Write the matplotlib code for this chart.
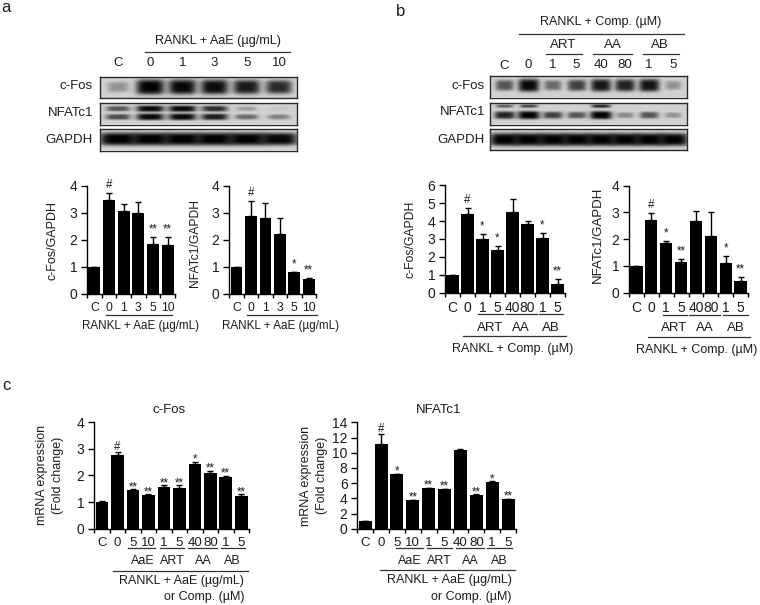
#!/usr/bin/env python3
from matplotlib import pyplot as plt
from matplotlib.lines import Line2D
import numpy as np

plt.rcParams['font.family'] = ['Liberation Sans', 'DejaVu Sans']
plt.rcParams['font.size'] = 9

W, H = 760, 605
TXT = '#1c1c1c'

# ---- blot band strengths, one per lane ----
lanes_a = ['C', '0', '1', '3', '5', '10']
a_fos = [0.3, 1.0, 0.97, 0.95, 0.88, 0.8]
a_nfat_up = [0.6, 0.97, 0.97, 0.8, 0.25, 0.06]
a_nfat_lo = [0.65, 0.97, 0.97, 0.88, 0.5, 0.4]
a_gapdh = [1.0, 1.0, 1.0, 1.0, 1.0, 0.97]

lanes_b = ['C', '0', '1', '5', '40', '80', '1', '5']
b_fos = [0.6, 0.97, 0.5, 0.7, 0.9, 0.85, 0.92, 0.3]
b_nfat_up = [0.6, 0.7, 0.0, 0.0, 0.85, 0.0, 0.0, 0.0]
b_nfat_lo = [0.85, 1.0, 0.7, 0.6, 1.0, 0.35, 0.6, 0.3]
b_gapdh = [1.0, 1.0, 1.0, 1.0, 1.0, 1.0, 1.0, 1.0]

# ---- densitometry a ----
labels_a = ['C', '0', '1', '3', '5', '10']
a1_vals = [1, 3.47, 3.07, 3.0, 1.86, 1.8]
a1_errs = [0, 0.27, 0.28, 0.41, 0.25, 0.31]
a1_marks = ['', '#', '', '', '**', '**']
a2_vals = [1, 2.87, 2.83, 2.21, 0.8, 0.54]
a2_errs = [0, 0.56, 0.55, 0.6, 0.02, 0.04]
a2_marks = ['', '#', '', '', '*', '**']

# ---- densitometry b ----
labels_b = ['C', '0', '1', '5', '40', '80', '1', '5']
b1_vals = [1, 4.4, 3.0, 2.36, 4.5, 3.84, 3.05, 0.47]
b1_errs = [0, 0.31, 0.26, 0.25, 0.75, 0.16, 0.26, 0.27]
b1_marks = ['', '#', '*', '*', '', '', '*', '**']
b2_vals = [1, 2.72, 1.84, 1.13, 2.69, 2.13, 1.12, 0.45]
b2_errs = [0, 0.25, 0.08, 0.12, 0.36, 0.89, 0.25, 0.15]
b2_marks = ['', '#', '*', '**', '', '', '*', '**']

# ---- mRNA c ----
labels_c = ['C', '0', '5', '10', '1', '5', '40', '80', '1', '5']
c1_vals = [1.0, 2.78, 1.44, 1.25, 1.58, 1.53, 2.42, 2.07, 1.92, 1.23]
c1_errs = [0.02, 0.09, 0.04, 0.04, 0.04, 0.09, 0.08, 0.1, 0.06, 0.07]
c1_marks = ['', '#', '**', '**', '**', '**', '*', '**', '**', '**']
c2_vals = [1.0, 11.2, 7.15, 3.77, 5.35, 5.18, 10.4, 4.47, 6.18, 3.86]
c2_errs = [0.05, 1.2, 0.1, 0.04, 0.05, 0.07, 0.05, 0.05, 0.07, 0.09]
c2_marks = ['', '#', '*', '**', '**', '**', '', '**', '*', '**']

fig = plt.figure(figsize=(W / 100, H / 100), dpi=100)


def px_axes(x0, x1, ytop, ybot):
    return fig.add_axes([x0 / W, 1 - ybot / H, (x1 - x0) / W, (ybot - ytop) / H])


def ptext(x, y, s, ha='center', size=9, rot=0):
    fig.text(x / W, 1 - y / H, s, ha=ha, va='center', fontsize=size, color=TXT, rotation=rot)


def pline(x0, x1, y, lw=0.9):
    fig.add_artist(Line2D([x0 / W, x1 / W], [1 - y / H, 1 - y / H], color='#333333', lw=lw))


def draw_blot(box, first, step, rows):
    # rows: list of (strengths, y centre as fraction, half height in px, half width factor)
    x0, x1, ytop, ybot = box
    ax = px_axes(x0, x1, ytop, ybot)
    xs = np.linspace(x0, x1, int(x1 - x0) * 2)
    ys = np.linspace(0, ybot - ytop, int(ybot - ytop) * 2)
    xx, yy = np.meshgrid(xs, ys)
    img = np.full(xx.shape, 0.82)
    for strengths, yfrac, hh, wfac in rows:
        yc = yfrac * (ybot - ytop)
        for i, s in enumerate(strengths):
            cx = first + i * step
            hw = step * wfac * (0.65 + 0.35 * s)
            band = s * np.exp(-((xx - cx) / hw) ** 4 - ((yy - yc) / (hh * (0.55 + 0.45 * s))) ** 4)
            img = img * (1 - band)
    ax.imshow(img, cmap='gray', vmin=0, vmax=1, aspect='auto', extent=[x0, x1, ybot, ytop],
              interpolation='bicubic')
    ax.set_xticks([])
    ax.set_yticks([])
    for s in ax.spines.values():
        s.set_linewidth(1.0)
        s.set_color('#2a2a2a')


def draw_bars(box, labels, vals, errs, marks, ymax, yticks, gap, hash_gap, xsize):
    ax = px_axes(*box)
    x = np.arange(len(vals))
    vals = np.array(vals)
    errs = np.array(errs)
    ax.bar(x, vals, width=0.82, color='black')
    ax.errorbar(x, vals, yerr=[np.zeros(len(errs)), errs], fmt='none', ecolor='black',
                elinewidth=1, capsize=2, capthick=1)
    for xi, top, m in zip(x, vals + errs, marks):
        if m:
            ax.annotate(m, (xi, top), xytext=(0, hash_gap if m == '#' else gap), textcoords='offset points',
                        ha='center', va='center', fontsize=8.3, color=TXT, annotation_clip=False)
    ax.set_xlim(-0.5, len(vals) - 0.5)
    ax.set_ylim(0, ymax)
    ax.set_yticks(yticks)
    ax.tick_params(axis='y', length=4, width=1, pad=3, labelsize=10, labelcolor=TXT)
    ax.set_xticks(x)
    ax.set_xticklabels(labels)
    ax.tick_params(axis='x', which='major', length=0, pad=6, labelsize=xsize, labelcolor=TXT)
    ax.set_xticks(np.arange(len(vals) + 1) - 0.5, minor=True)
    ax.tick_params(axis='x', which='minor', length=3, width=1)
    ax.spines['top'].set_visible(False)
    ax.spines['right'].set_visible(False)
    ax.spines['left'].set_linewidth(1)
    ax.spines['bottom'].set_linewidth(1)
    return ax


# panel letters
ptext(6, 7, 'a', size=12)
ptext(401, 11, 'b', size=12)
ptext(6, 385, 'c', size=12)

# ---- blots a ----
rows_fos_a = [(a_fos, 0.5, 7.5, 0.44)]
rows_nfat_a = [(a_nfat_up, 0.3, 3.2, 0.44), (a_nfat_lo, 0.68, 3.4, 0.44)]
rows_gapdh_a = [(a_gapdh, 0.5, 6.5, 0.6)]
draw_blot((100, 297, 76.5, 98), 118, 32.2, rows_fos_a)
draw_blot((100, 297, 102.5, 124.5), 118, 32.2, rows_nfat_a)
draw_blot((100, 297, 128.5, 150.5), 118, 32.2, rows_gapdh_a)
for i, s in enumerate(lanes_a):
    ptext(118 + i * 32.2, 63.5, s, size=9.5)
ptext(218, 41, 'RANKL + AaE (µg/mL)', size=9.1)
pline(145, 290, 51.7)
for yy, s in zip([86, 112.7, 140], ['c-Fos', 'NFATc1', 'GAPDH']):
    ptext(93, yy, s, ha='right', size=9.5)

# ---- blots b ----
rows_fos_b = [(b_fos, 0.47, 6.5, 0.44)]
rows_nfat_b = [(b_nfat_up, 0.18, 1.8, 0.42), (b_nfat_lo, 0.6, 4, 0.46)]
rows_gapdh_b = [(b_gapdh, 0.5, 6.5, 0.62)]
draw_blot((489.5, 686.5, 76, 97.5), 504, 24.15, rows_fos_b)
draw_blot((489.5, 686.5, 103, 124.5), 504, 24.15, rows_nfat_b)
draw_blot((489.5, 686.5, 129, 150), 504, 24.15, rows_gapdh_b)
for i, s in enumerate(lanes_b):
    ptext(504 + i * 24.15, 66 if s == 'C' else 65, s, size=9.5)
ptext(601, 22.5, 'RANKL + Comp. (µM)', size=9)
pline(518.5, 683.5, 34)
for cx, xa, xb, s in [(563, 546, 582, 'ART'), (613, 593, 632, 'AA'), (660, 643, 679, 'AB')]:
    ptext(cx, 45.5, s, size=9.5)
    pline(xa, xb, 54.3)
for yy, s in zip([86, 112, 140], ['c-Fos', 'NFATc1', 'GAPDH']):
    ptext(485, yy, s, ha='right', size=9.5)

# ---- bars a ----
draw_bars((87, 175, 186, 293.7), labels_a, a1_vals, a1_errs, a1_marks, 4, [0, 1, 2, 3, 4], 5.5, 6, 8.8)
draw_bars((229.3, 316, 186, 293.7), labels_a, a2_vals, a2_errs, a2_marks, 4, [0, 1, 2, 3, 4], 5.5, 6, 8.8)
ptext(52.5, 240, 'c-Fos/GAPDH', rot=90, size=9)
ptext(195, 243, 'NFATc1/GAPDH', rot=90, size=8.7)
pline(106, 172, 315)
pline(247, 316.7, 315)
ptext(140, 326, 'RANKL + AaE (µg/mL)', size=8.4)
ptext(281, 326, 'RANKL + AaE (µg/mL)', size=8.4)

# ---- bars b ----
draw_bars((445, 565, 185.3, 292.7), labels_b, b1_vals, b1_errs, b1_marks, 6, [0, 1, 2, 3, 4, 5, 6], 5.5, 6, 10)
draw_bars((629, 748, 185.7, 292.7), labels_b, b2_vals, b2_errs, b2_marks, 4, [0, 1, 2, 3, 4], 5.5, 6, 10)
ptext(410, 239, 'c-Fos/GAPDH', rot=90, size=8.8)
ptext(598, 235, 'NFATc1/GAPDH', rot=90, size=9.5)
for xa, xb in [(478.3, 502.7), (506, 536.7), (538.7, 563.3)]:
    pline(xa, xb, 314.3)
for cx, s in [(490, 'ART'), (520.7, 'AA'), (550.7, 'AB')]:
    ptext(cx, 327.7, s, size=9.5)
pline(463.3, 565.7, 335.7)
ptext(512.7, 348.7, 'RANKL + Comp. (µM)', size=9)
for xa, xb in [(662.7, 686.7), (689.3, 720), (723.3, 747.7)]:
    pline(xa, xb, 315)
for cx, s in [(674.3, 'ART'), (705, 'AA'), (735.7, 'AB')]:
    ptext(cx, 328, s, size=9.5)
pline(647.7, 750, 337.3)
ptext(696.7, 350, 'RANKL + Comp. (µM)', size=9)

# ---- bars c ----
draw_bars((94.3, 249, 422, 528.7), labels_c, c1_vals, c1_errs, c1_marks, 4, [0, 1, 2, 3, 4], 1.5, 4, 9.5)
draw_bars((357.3, 516, 422.3, 528.7), labels_c, c2_vals, c2_errs, c2_marks, 14, list(range(0, 15, 2)), 1.5, 4, 9.5)
ptext(169.3, 410, 'c-Fos', size=9.5)
ptext(439, 410, 'NFATc1', size=9.5)
ptext(41.5, 475, 'mRNA expression', rot=90, size=9)
ptext(58.3, 475, '(Fold change)', rot=90, size=9)
ptext(305.7, 475.5, 'mRNA expression', rot=90, size=9)
ptext(322.3, 475.5, '(Fold change)', rot=90, size=9)
for xa, xb in [(128.3, 155), (160, 184.3), (187.7, 217.3), (220.7, 245)]:
    pline(xa, xb, 548.3)
for cx, s in [(142.3, 'AaE'), (172.3, 'ART'), (203.3, 'AA'), (232.7, 'AB')]:
    ptext(cx, 561, s, size=9)
pline(112.7, 248.3, 571)
ptext(244.3, 581.3, 'RANKL + AaE (µg/mL)', ha='right', size=9)
ptext(244.3, 597, 'or Comp. (µM)', ha='right', size=9)
for xa, xb in [(396, 422.7), (426.7, 451.7), (455.7, 484), (487.3, 512.3)]:
    pline(xa, xb, 548.3)
for cx, s in [(409.3, 'AaE'), (439.3, 'ART'), (470.7, 'AA'), (499.3, 'AB')]:
    ptext(cx, 561, s, size=9)
pline(380, 515, 570)
ptext(511.7, 580.3, 'RANKL + AaE (µg/mL)', ha='right', size=9)
ptext(511.7, 596.7, 'or Comp. (µM)', ha='right', size=9)

plt.savefig('out.png', dpi=100)
